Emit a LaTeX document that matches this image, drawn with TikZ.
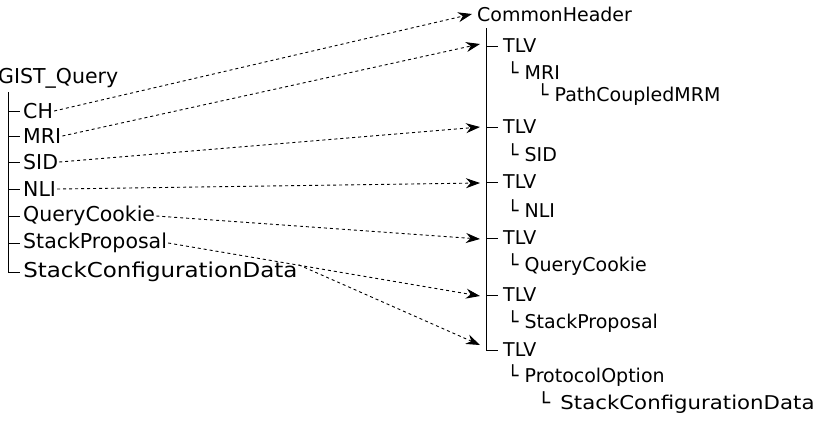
\documentclass[tikz,border=0pt]{standalone}
\usepackage{fontspec}
\setmainfont{DejaVu Sans}
\usetikzlibrary{arrows.meta}
\begin{document}
\begin{tikzpicture}[x=1pt,y=-1pt,
  lbl/.style={anchor=west,inner sep=1pt,font=\fontsize{19}{22}\selectfont},
  llbl/.style={anchor=west,inner sep=1pt,font=\fontsize{20.5}{23}\selectfont},
  arr/.style={dashed,-{Stealth[length=14pt,width=10pt]},line width=0.9pt},
  tree/.style={line width=1pt}]
\clip (0,0) rectangle (818,424);
\useasboundingbox (0,0) rectangle (818,424);
% left tree
\node[llbl] (gq) at (-3,78) {GIST\_Query};
\draw[tree] (8,92) -- (8,272) -- (20,272);
\foreach \n/\t/\y in {ch/CH/111,mri/MRI/136,sid/SID/162,nli/NLI/189,qc/QueryCookie/216,sp/StackProposal/243}{
  \draw[tree] (8,\y) -- (20,\y);
  \node[llbl] (\n) at (22,\y) {\t};
}
\node[llbl,xscale=1.12] (scd) at (22,272) {StackConfigurationData};
% right tree
\node[lbl] (chd) at (476,14) {CommonHeader};
\draw[tree] (486,28) -- (486,350);
\foreach \n/\y in {t1/46,t2/127,t3/182,t4/238,t5/295,t6/350}{
  \draw[tree] (486,\y) -- (498,\y);
  \node[lbl] (\n) at (502,\y) {TLV};
}
\node[lbl] (a1) at (506,71) {└ MRI};
\node[lbl] (a2) at (536,95) {└ PathCoupledMRM};
\node[lbl] (a3) at (506,153) {└ SID};
\node[lbl] (a4) at (506,209) {└ NLI};
\node[lbl] (a5) at (506,265) {└ QueryCookie};
\node[lbl] (a6) at (506,322) {└ StackProposal};
\node[lbl] (a7) at (506,376) {└ ProtocolOption};
\node[lbl,xscale=1.12] (a8) at (536,403) {└ \,StackConfigurationData};
\coordinate (e1) at (472,14);
\coordinate (e2) at (480,44);
\coordinate (e3) at (480,127);
\coordinate (e4) at (480,183);
\coordinate (e5) at (480,239);
\coordinate (e6) at (480,296);
\coordinate (e7) at (480,345);
\draw[arr] (ch.east) -- (e1);
\draw[arr] (mri.east) -- (e2);
\draw[arr] (sid.east) -- (e3);
\draw[arr] (nli.east) -- (e4);
\draw[arr] (qc.east) -- (e5);
\draw[arr] (sp.east) -- (e6);
\draw[arr] ([yshift=-4pt]scd.north east) -- (e7);
\end{tikzpicture}
\end{document}
